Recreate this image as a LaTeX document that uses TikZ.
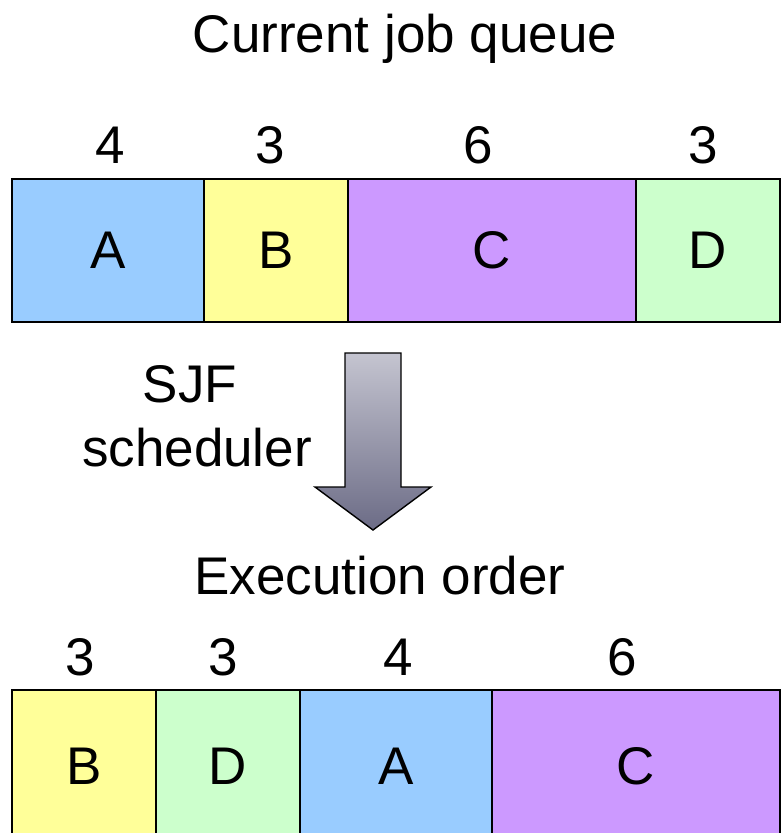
\documentclass[tikz,border=0pt]{standalone}
\usepackage{fontspec}
\setmainfont{Liberation Sans}
\usetikzlibrary{positioning}

\definecolor{jobblue}{HTML}{99CCFF}
\definecolor{jobyellow}{HTML}{FFFF99}
\definecolor{jobviolet}{HTML}{CC99FF}
\definecolor{jobgreen}{HTML}{CCFFCC}
\definecolor{arrowtop}{RGB}{196,196,208}
\definecolor{arrowbot}{RGB}{108,108,134}

\tikzset{
  job/.style={draw=black,line width=1.6pt,inner sep=0pt,outer sep=0pt,minimum height=143pt,font=\fontsize{53}{63}\selectfont},
  num/.style={inner sep=0pt,font=\fontsize{53}{63}\selectfont},
  ttl/.style={inner sep=0pt,anchor=base,font=\fontsize{53}{63}\selectfont},
}

\begin{document}
\begin{tikzpicture}[x=1pt,y=-1pt]
		\useasboundingbox (0,0) rectangle (781,833);
		% current queue
		\node[job,fill=jobblue,minimum width=192pt,anchor=north west] (qA) at (12,179) {A};
		\node[job,fill=jobyellow,minimum width=144pt,right=0pt of qA] (qB) {B};
		\node[job,fill=jobviolet,minimum width=288pt,right=0pt of qB] (qC) {C};
		\node[job,fill=jobgreen,minimum width=144pt,right=0pt of qC] (qD) {D};
		
		\node[num,above=15pt of qA,xshift=2pt] (nqA) {4};
		\node[num,above=15pt of qB,xshift=-6pt] (nqB) {3};
		\node[num,above=15pt of qC,xshift=-14pt] (nqC) {6};
		\node[num,above=15pt of qD,xshift=-5pt] (nqD) {3};
		
		\node[ttl] (title) at (405,52) {Current job queue};
		
		% scheduler arrow
		\draw[line width=1.4pt,top color=arrowtop,bottom color=arrowbot]
			(345,353) -- (401,353) -- (401,487) -- (431,487) -- (373,530) -- (315,487) -- (345,487) -- cycle;
		\node[ttl] (sjf) at (190,402) {SJF};
		\node[ttl] (sched) at (197,466) {scheduler};
		
		% execution order
		\node[ttl] (exec) at (380,594) {Execution order};
		
		\node[job,fill=jobyellow,minimum width=144pt,minimum height=150pt,anchor=north west] (eB) at (12,690) {};
		\node[job,fill=jobgreen,minimum width=144pt,minimum height=150pt,right=0pt of eB] (eD) {};
		\node[job,fill=jobblue,minimum width=192pt,minimum height=150pt,right=0pt of eD] (eA) {};
		\node[job,fill=jobviolet,minimum width=288pt,minimum height=150pt,right=0pt of eA] (eC) {};
		\node[num] (leB) at (eB.north |- 0,766) {B};
		\node[num] (leD) at (eD.north |- 0,766) {D};
		\node[num] (leA) at (eA.north |- 0,766) {A};
		\node[num] (leC) at (eC.north |- 0,766) {C};
		
		\node[num,above=14pt of eB,xshift=-4pt] (neB) {3};
		\node[num,above=14pt of eD,xshift=-5pt] (neD) {3};
		\node[num,above=14pt of eA,xshift=2pt] (neA) {4};
		\node[num,above=14pt of eC,xshift=-14pt] (neC) {6};
	\end{tikzpicture}
\end{document}
